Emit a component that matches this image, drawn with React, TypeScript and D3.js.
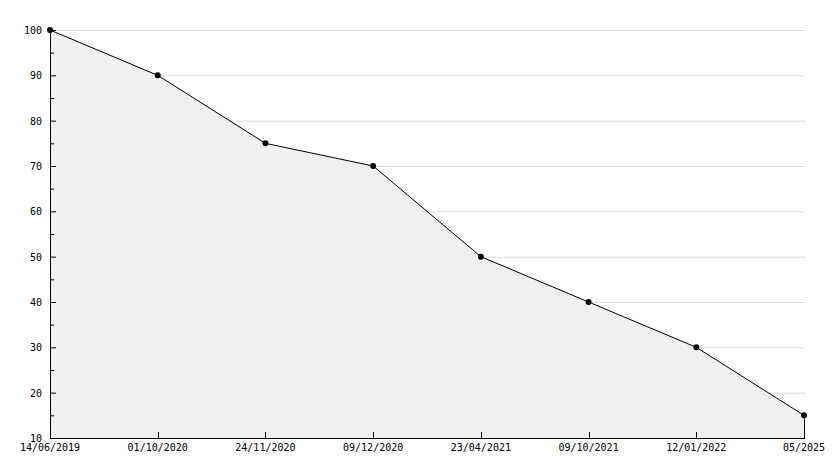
import React from "react";
import * as d3 from "d3";

const categories = ["14/06/2019", "01/10/2020", "24/11/2020", "09/12/2020", "23/04/2021", "09/10/2021", "12/01/2022", "05/2025"];
const values = [100, 90, 75, 70, 50, 40, 30, 15];
const yTicks = [10, 20, 30, 40, 50, 60, 70, 80, 90, 100];
const yMinorTicks = [15, 25, 35, 45, 55, 65, 75, 85, 95];

export default function App() {
  const W = 834, H = 468;
  const left = 50, right = 804, top = 30, bottom = 438;
  const x = d3.scalePoint<string>().domain(categories).range([left, right]);
  const y = d3.scaleLinear().domain([10, 100]).range([bottom, top]);
  const data = categories.map((c, i) => ({ c, v: values[i] }));
  const line = d3.line<{ c: string; v: number }>().x(d => x(d.c)!).y(d => y(d.v));
  const area = d3.area<{ c: string; v: number }>().x(d => x(d.c)!).y0(bottom).y1(d => y(d.v));
  const font = "'DejaVu Sans Mono', monospace";
  return (
    <svg width={W} height={H} style={{ position: "absolute", left: 0, top: 0, background: "#fff" }}>
      {yTicks.filter(t => t > 10).map(t => (
        <line key={"g" + t} x1={left} x2={right + 1} y1={y(t) + 0.5} y2={y(t) + 0.5} stroke="#dcdcdc" strokeWidth={1} />
      ))}
      <path d={area(data)!} fill="#f0f0f0" stroke="none" />
      <path d={line(data)!} fill="none" stroke="#000" strokeWidth={1} />
      <line x1={right + 0.5} x2={right + 0.5} y1={y(values[values.length - 1])} y2={bottom} stroke="#000" />
      {/* y axis */}
      <line x1={left + 0.5} x2={left + 0.5} y1={top} y2={bottom + 1} stroke="#000" />
      {yTicks.map(t => (
        <g key={"yt" + t}>
          <line x1={left} x2={left + 6} y1={y(t) + 0.5} y2={y(t) + 0.5} stroke="#000" />
          <text x={42} y={y(t) + 4} textAnchor="end" fontFamily={font} fontSize={10} fill="#000">{t}</text>
        </g>
      ))}
      {yMinorTicks.map(t => (
        <line key={"ym" + t} x1={left} x2={left + 4} y1={y(t) + 0.5} y2={y(t) + 0.5} stroke="#000" />
      ))}
      {/* x axis */}
      <line x1={left} x2={right + 1} y1={bottom + 0.5} y2={bottom + 0.5} stroke="#000" />
      {categories.map(c => (
        <g key={"xt" + c}>
          <line x1={Math.round(x(c)!) + 0.5} x2={Math.round(x(c)!) + 0.5} y1={bottom - 6} y2={bottom} stroke="#000" />
          <text x={x(c)!} y={bottom + 13} textAnchor="middle" fontFamily={font} fontSize={10} fill="#000">{c}</text>
        </g>
      ))}
      {data.map(d => (
        <circle key={"m" + d.c} cx={x(d.c)!} cy={y(d.v)} r={3} fill="#000" />
      ))}
    </svg>
  );
}
